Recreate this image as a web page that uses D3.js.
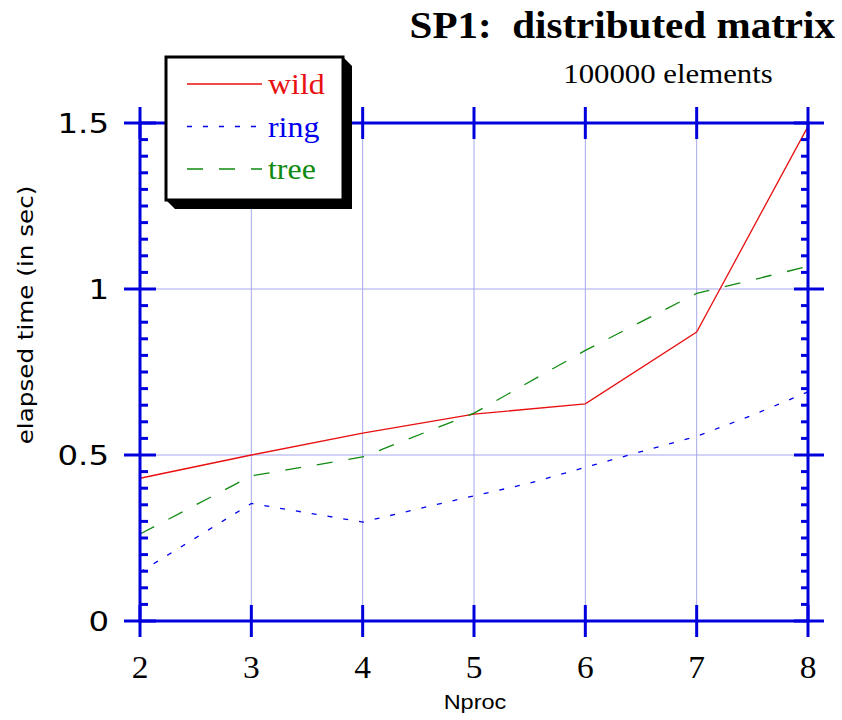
<!DOCTYPE html>
<html>
<head>
<meta charset="utf-8">
<script src="https://cdn.jsdelivr.net/npm/d3@7"></script>
<style>
  body { margin: 0; background: #fff; }
  svg { display: block; }
</style>
</head>
<body>
<div id="chart"></div>
<script>
// data
var nproc = [2, 3, 4, 5, 6, 7, 8];
var wild = [0.43, 0.50, 0.566, 0.623, 0.654, 0.87, 1.49];
var tree = [0.262, 0.437, 0.494, 0.626, 0.815, 0.987, 1.068];
// ring has extra half-step points
var nprocRing = [2, 3, 3.5, 4, 4.5, 5, 5.5, 6, 6.5, 7, 7.5, 8];
var ring = [0.147, 0.354, 0.326, 0.298, 0.338, 0.377, 0.415, 0.463, 0.51, 0.556, 0.62, 0.69];
var yTicks = [0, 0.5, 1, 1.5];
var yTickLabels = ["0", "0.5", "1", "1.5"];

var W = 842, H = 720;
var margin = {top: 123, right: 34, bottom: 99, left: 140},
    width = W - margin.left - margin.right,
    height = H - margin.top - margin.bottom;

var axisBlue = "#0000dd", gridBlue = "#a8a8ee";

var svg = d3.select("#chart").append("svg")
    .attr("width", W).attr("height", H);

var g = svg.append("g")
    .attr("transform", "translate(" + margin.left + "," + margin.top + ")");

var x = d3.scaleLinear().domain([2, 8]).range([0, width]);
var y = d3.scaleLinear().domain([0, 1.5]).range([height, 0]);

// text in the original is a bit stretched sideways
function stretch(px, py, sx) {
    return "translate(" + px + "," + py + ") scale(" + sx + ",1)";
}

// grid
g.selectAll(".vgrid").data(nproc.slice(1, -1)).enter().append("line")
    .attr("x1", d => x(d)).attr("x2", d => x(d))
    .attr("y1", 0).attr("y2", height)
    .attr("stroke", gridBlue).attr("stroke-width", 1);
g.selectAll(".hgrid").data([0.5, 1]).enter().append("line")
    .attr("x1", 0).attr("x2", width)
    .attr("y1", d => y(d)).attr("y2", d => y(d))
    .attr("stroke", gridBlue).attr("stroke-width", 1);

// series
var series = [
    {name: "wild", xs: nproc, ys: wild, color: "#e81010", dash: null},
    {name: "ring", xs: nprocRing, ys: ring, color: "#0000ee", dash: "5,11"},
    {name: "tree", xs: nproc, ys: tree, color: "#108a10", dash: "16,16"}
];

var line = d3.line().x(d => x(d[0])).y(d => y(d[1]));

series.forEach(function(s) {
    g.append("path")
        .datum(d3.zip(s.xs, s.ys))
        .attr("fill", "none")
        .attr("stroke", s.color)
        .attr("stroke-width", 1.3)
        .attr("stroke-dasharray", s.dash)
        .attr("d", line);
});

// frame / axes
var frame = g.append("g").attr("stroke", axisBlue).attr("stroke-width", 3).attr("fill", "none");
frame.append("rect").attr("x", 0).attr("y", 0).attr("width", width).attr("height", height);

// minor y ticks every 0.05
var minor = d3.range(1, 30).map(d => d * 0.05).filter(d => Math.abs(d * 2 - Math.round(d * 2)) > 1e-6);
frame.selectAll(".minL").data(minor).enter().append("line")
    .attr("x1", 0).attr("x2", 8).attr("y1", d => y(d)).attr("y2", d => y(d));
frame.selectAll(".minR").data(minor).enter().append("line")
    .attr("x1", width - 7).attr("x2", width).attr("y1", d => y(d)).attr("y2", d => y(d));

// major y ticks both sides
frame.selectAll(".majL").data(yTicks).enter().append("line")
    .attr("x1", -16).attr("x2", 16).attr("y1", d => y(d)).attr("y2", d => y(d));
frame.selectAll(".majR").data(yTicks).enter().append("line")
    .attr("x1", width - 14).attr("x2", width + 16).attr("y1", d => y(d)).attr("y2", d => y(d));

// x ticks top and bottom
frame.selectAll(".xb").data(nproc).enter().append("line")
    .attr("x1", d => x(d)).attr("x2", d => x(d)).attr("y1", height - 16).attr("y2", height + 16);
frame.selectAll(".xt").data(nproc).enter().append("line")
    .attr("x1", d => x(d)).attr("x2", d => x(d)).attr("y1", -16).attr("y2", 16);

// tick labels
g.selectAll(".ylab").data(yTicks).enter().append("text")
    .attr("transform", d => stretch(-31, y(d), 1.2))
    .attr("dy", "0.36em")
    .attr("text-anchor", "end")
    .style("font-family", "'DejaVu Sans', sans-serif")
    .style("font-size", "27px")
    .text((d, i) => yTickLabels[i]);

g.selectAll(".xlab").data(nproc).enter().append("text")
    .attr("transform", d => stretch(x(d), height + 57, 1.08))
    .attr("text-anchor", "middle")
    .style("font-family", "'Liberation Serif', serif")
    .style("font-size", "31px")
    .text(d => d);

// axis titles
svg.append("text")
    .attr("transform", stretch(475, 709, 1.12))
    .attr("text-anchor", "middle")
    .style("font-family", "'Liberation Sans', sans-serif")
    .style("font-size", "21px")
    .text("Nproc");

svg.append("text")
    .attr("transform", "translate(33,315) rotate(-90) scale(1.12,1)")
    .attr("text-anchor", "middle")
    .style("font-family", "'DejaVu Sans', sans-serif")
    .style("font-size", "22px")
    .text("elapsed time (in sec)");

// titles
svg.append("text")
    .attr("transform", stretch(835, 38, 1.11))
    .attr("text-anchor", "end")
    .style("font-family", "'Liberation Serif', serif")
    .style("font-weight", "bold")
    .style("font-size", "37px")
    .style("white-space", "pre")
    .text("SP1:  distributed matrix");

svg.append("text")
    .attr("transform", stretch(668, 83, 1.1))
    .attr("text-anchor", "middle")
    .style("font-family", "'Liberation Serif', serif")
    .style("font-size", "28px")
    .text("100000 elements");

// legend
var lx = 166, ly = 57, lw = 177, lh = 143, sh = 9;
svg.append("path")
    .attr("d", "M" + (lx + lw) + "," + ly + " L" + (lx + lw + sh) + "," + (ly + sh) +
        " L" + (lx + lw + sh) + "," + (ly + lh + sh) + " L" + (lx + sh) + "," + (ly + lh + sh) +
        " L" + lx + "," + (ly + lh) + " Z")
    .attr("fill", "#000");
svg.append("rect")
    .attr("x", lx).attr("y", ly).attr("width", lw).attr("height", lh)
    .attr("fill", "#fff").attr("stroke", "#000").attr("stroke-width", 3);

var leg = svg.selectAll(".leg").data(series).enter().append("g")
    .attr("transform", (d, i) => "translate(" + (lx + 21) + "," + (ly + 27 + i * 42.5) + ")");
leg.append("line")
    .attr("x1", 0).attr("x2", 75)
    .attr("stroke", d => d.color).attr("stroke-width", 1.3)
    .attr("stroke-dasharray", d => d.dash);
leg.append("text")
    .attr("transform", stretch(81, 10, 1.1))
    .style("font-family", "'Liberation Serif', serif")
    .style("font-size", "29px")
    .attr("fill", d => d.color)
    .text(d => d.name);
</script>
</body>
</html>
